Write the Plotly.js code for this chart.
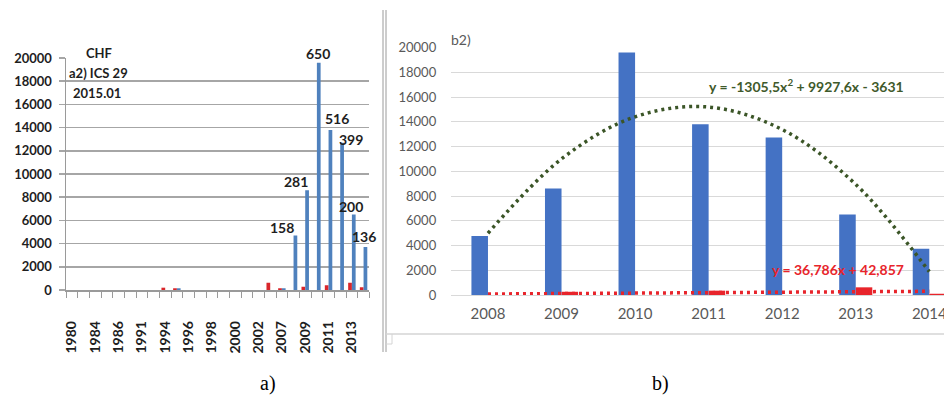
<!DOCTYPE html>
<html>
<head>
<meta charset="utf-8">
<script src="https://cdn.plot.ly/plotly-3.0.1.min.js"></script>
<style>
  html, body { margin: 0; padding: 0; background: #ffffff; }
  #chart { width: 944px; height: 396px; }
</style>
</head>
<body>
<div id="chart"></div>
<script>
// ---------- Panel a) data ----------
const catsA = ['1980','1982','1984','1985','1986','1988','1991','1992','1994','1995','1996','1997','1998','1999','2000','2001','2002','2004','2007','2008','2009','2010','2011','2012','2013','2014'];
const shownLabelsA = ['1980','1984','1986','1991','1994','1996','1998','2000','2002','2007','2009','2011','2013'];
const redA  = [0,0,0,0,0,0,0,0,200,150,0,0,0,0,0,0,0,630,150,0,290,0,400,0,630,230];
const blueA = [0,0,0,0,0,0,0,0,0,150,0,0,0,0,0,0,0,0,150,4700,8600,19600,13800,12700,6500,3700];
const countCats = ['2008','2009','2010','2011','2012','2013','2014'];
const countLabels = ['158','281','650','516','399','200','136'];

// ---------- Panel b) data ----------
const yearsB = ['2008','2009','2010','2011','2012','2013','2014'];
const blueB = [4760, 8600, 19600, 13790, 12720, 6500, 3730];
const redB  = [0, 260, 0, 350, 0, 620, 100];
const polyTrendB = [4990, 11000, 14400, 15190, 13370, 8940, 1890];
const linTrendYears = ['2008','2014'];
const linTrendB = [80, 300];
const polyEq = 'y = -1305,5x<sup>2</sup> + 9927,6x - 3631';
const linEq = 'y = 36,786x + 42,857';

const W = 944, H = 396;
const px = v => v / W;
const py = v => 1 - v / H;

const FONT = 'Lato, Carlito, "Open Sans", sans-serif';
const dark = '#1e1e1e';
const grayTxt = '#595959';

const traces = [
  { type: 'bar', x: catsA, y: redA, xaxis: 'x', yaxis: 'y',
    marker: { color: '#d9262b' }, width: 0.32, offset: -0.32, hoverinfo: 'skip' },
  { type: 'bar', x: catsA, y: blueA, xaxis: 'x', yaxis: 'y',
    marker: { color: '#4f81bd' }, width: 0.32, offset: 0.0, hoverinfo: 'skip' },
  { type: 'bar', x: yearsB, y: blueB, xaxis: 'x2', yaxis: 'y2',
    marker: { color: '#4472c4' }, width: 0.225, offset: -0.225, hoverinfo: 'skip' },
  { type: 'bar', x: yearsB, y: redB, xaxis: 'x2', yaxis: 'y2',
    marker: { color: '#e8242b' }, width: 0.225, offset: 0.0, hoverinfo: 'skip' },
  { type: 'scatter', mode: 'lines', x: yearsB, y: polyTrendB, xaxis: 'x2', yaxis: 'y2',
    line: { color: '#3b5527', width: 3.5, dash: '3px,4px', shape: 'spline' }, hoverinfo: 'skip' },
  { type: 'scatter', mode: 'lines', x: linTrendYears, y: linTrendB, xaxis: 'x2', yaxis: 'y2',
    line: { color: '#e8242b', width: 3.5, dash: '3px,4px' }, hoverinfo: 'skip' }
];

const shiftsX = [-12, -9, 1, 8, 11, -1, 0];
const shiftsY = [-3, -2, -1, 1, -7, -2, 0];
const annotations = [];
countCats.forEach((c, i) => {
  const idx = catsA.indexOf(c);
  annotations.push({
    xref: 'x', yref: 'y', x: idx, y: blueA[idx],
    text: countLabels[i], showarrow: false, xanchor: 'center', yanchor: 'bottom',
    xshift: shiftsX[i], yshift: shiftsY[i],
    font: { family: FONT, size: 14, color: dark, weight: 700 }
  });
});
annotations.push(
  { xref: 'paper', yref: 'paper', x: px(99), y: py(53), text: 'CHF', showarrow: false,
    xanchor: 'center', yanchor: 'middle', font: { family: FONT, size: 13, color: dark, weight: 700 } },
  { xref: 'paper', yref: 'paper', x: px(67), y: py(73), text: 'a2) ICS 29', showarrow: false,
    xanchor: 'left', yanchor: 'middle', font: { family: FONT, size: 13, color: dark, weight: 700 } },
  { xref: 'paper', yref: 'paper', x: px(71), y: py(93), text: '2015.01', showarrow: false,
    xanchor: 'left', yanchor: 'middle', font: { family: FONT, size: 13, color: dark, weight: 700 } },
  { xref: 'paper', yref: 'paper', x: px(449), y: py(40), text: 'b2)', showarrow: false,
    xanchor: 'left', yanchor: 'middle', font: { family: FONT, size: 14, color: grayTxt } },
  { xref: 'paper', yref: 'paper', x: px(806), y: py(86), text: polyEq, showarrow: false,
    xanchor: 'center', yanchor: 'middle', font: { family: FONT, size: 14, color: '#3f5a2b', weight: 700 } },
  { xref: 'paper', yref: 'paper', x: px(838), y: py(269), text: linEq, showarrow: false,
    xanchor: 'center', yanchor: 'middle', font: { family: FONT, size: 14, color: '#e8242b', weight: 700 } },
  { xref: 'paper', yref: 'paper', x: px(268), y: py(383), text: 'a)', showarrow: false,
    xanchor: 'center', yanchor: 'middle', font: { family: '"Liberation Serif", "Times New Roman", serif', size: 20, color: '#000' } },
  { xref: 'paper', yref: 'paper', x: px(660), y: py(383), text: 'b)', showarrow: false,
    xanchor: 'center', yanchor: 'middle', font: { family: '"Liberation Serif", "Times New Roman", serif', size: 20, color: '#000' } }
);

const shapes = [
  { type: 'line', xref: 'paper', yref: 'paper', x0: px(383), x1: px(383), y0: py(10), y1: py(352), line: { color: '#9a9a9a', width: 1 } },
  { type: 'line', xref: 'paper', yref: 'paper', x0: px(386), x1: px(386), y0: py(10), y1: py(352), line: { color: '#9a9a9a', width: 1 } },
  { type: 'line', xref: 'paper', yref: 'paper', x0: px(386), x1: px(944), y0: py(334), y1: py(334), line: { color: '#d4d4d4', width: 1.5 } },
  { type: 'line', xref: 'paper', yref: 'paper', x0: px(392), x1: px(392), y0: py(334), y1: py(344), line: { color: '#d4d4d4', width: 1 } },
  { type: 'line', xref: 'paper', yref: 'paper', x0: px(386), x1: px(392), y0: py(344), y1: py(344), line: { color: '#d4d4d4', width: 1 } }
];

const layout = {
  width: W, height: H,
  margin: { l: 0, r: 0, t: 0, b: 0 },
  paper_bgcolor: '#ffffff', plot_bgcolor: 'rgba(0,0,0,0)',
  showlegend: false,
  barmode: 'overlay',
  xaxis: {
    domain: [px(66), px(369.4)], anchor: 'y', type: 'category',
    range: [-0.5, 25.5], tickmode: 'array', tickvals: catsA,
    ticktext: catsA.map(c => shownLabelsA.includes(c) ? c : ''),
    tickson: 'boundaries', ticks: 'outside', ticklen: 6, tickcolor: '#9a9a9a', tickwidth: 1,
    showline: true, linecolor: '#9a9a9a', linewidth: 1.5, showgrid: false, zeroline: false,
    tickangle: -90, ticklabelstandoff: 24,
    tickfont: { family: FONT, size: 14, color: dark, weight: 700 }
  },
  yaxis: {
    domain: [py(290), py(58)], anchor: 'x', range: [0, 20000], dtick: 2000, tickformat: 'd',
    ticks: 'outside', ticklen: 6, tickcolor: '#a6a6a6', tickwidth: 1.5,
    showline: true, linecolor: '#9a9a9a', linewidth: 1.5,
    showgrid: true, gridcolor: '#a6a6a6', gridwidth: 1.5, zeroline: false,
    ticklabelstandoff: 4,
    tickfont: { family: FONT, size: 13, color: dark, weight: 700 }
  },
  xaxis2: {
    domain: [px(451.2), 1], anchor: 'y2', type: 'category',
    range: [-0.5, 6.2], ticks: '', showline: true, linecolor: '#d9d9d9', linewidth: 1,
    showgrid: false, zeroline: false, ticklabelstandoff: 5,
    tickfont: { family: FONT, size: 15, color: grayTxt }
  },
  yaxis2: {
    domain: [py(295), py(47.5)], anchor: 'x2', range: [0, 20000], dtick: 2000, tickformat: 'd',
    ticks: '', showline: false, showgrid: true, gridcolor: '#d9d9d9', gridwidth: 1,
    zeroline: false, ticklabelstandoff: 14,
    tickfont: { family: FONT, size: 13, color: grayTxt }
  },
  annotations: annotations,
  shapes: shapes
};

Plotly.newPlot('chart', traces, layout, { staticPlot: true, displayModeBar: false });
</script>
</body>
</html>
